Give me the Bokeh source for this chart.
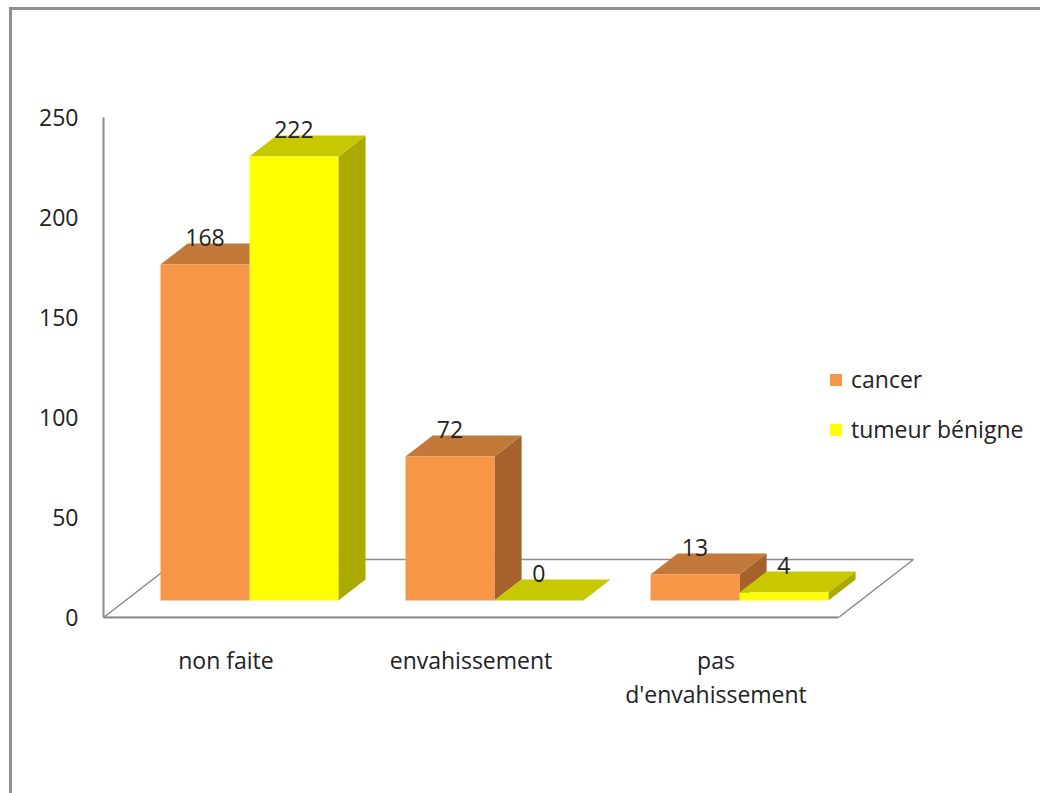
from bokeh.plotting import figure
from bokeh.models import FixedTicker, Legend, LegendItem, InlineStyleSheet, Range1d
from bokeh.core.properties import value
from bokeh.embed import file_html
from bokeh.resources import INLINE

# ---- data ----
categories = ["non faite", "envahissement", "pas\nd'envahissement"]
series_names = ["cancer", "tumeur bénigne"]
cancer = [168, 72, 13]
tumeur = [222, 0, 4]
y_ticks = [0, 50, 100, 150, 200, 250]

# ---- style ----
FONT = "Open Sans"
FS = "23px"
TXT = "#222222"
AXIS = "#8c8c8c"
front_col = ["#F79646", "#FFFF00"]
top_col = ["#C27838", "#C8C800"]
side_col = ["#A6622D", "#AAAA00"]

# ---- 3D geometry (data units) ----
PX_X = 245.0          # pixels per category
PX_Y = 2.0            # pixels per value unit
DX = 75 / PX_X        # floor depth, x shift
DY = 29.0             # floor depth, y shift
f0, f1 = 17 / 58, 38 / 58   # bar front / back as fraction of floor depth
GAP = 0.143
W = 0.363

p = figure(width=1040, height=793,
           x_range=Range1d(0, 937 / PX_X), y_range=Range1d(0, 617 / PX_Y),
           output_backend="svg", toolbar_location=None,
           min_border_left=103, min_border_right=0, min_border_top=0, min_border_bottom=176)
p.outline_line_color = None
p.xgrid.visible = False
p.ygrid.visible = False
p.background_fill_color = None
p.border_fill_color = None

# floor outline
n = len(categories)
p.patch([0, n, n + DX, DX], [0, 0, DY, DY], fill_color=None, line_color=AXIS, line_width=1.5)

values = [cancer, tumeur]
front_renderers = []
for s, vals in enumerate(values):
    sx, sy, tx, ty, fx, fy = [], [], [], [], [], []
    for i, v in enumerate(vals):
        x0 = i + GAP + s * W
        x1 = x0 + W
        a0x, a0y = f0 * DX, f0 * DY
        a1x, a1y = f1 * DX, f1 * DY
        sx.append([x1 + a0x, x1 + a1x, x1 + a1x, x1 + a0x])
        sy.append([a0y, a1y, v + a1y, v + a0y])
        tx.append([x0 + a0x, x1 + a0x, x1 + a1x, x0 + a1x])
        ty.append([v + a0y, v + a0y, v + a1y, v + a1y])
        fx.append([x0 + a0x, x1 + a0x, x1 + a0x, x0 + a0x])
        fy.append([a0y, a0y, v + a0y, v + a0y])
    p.patches(sx, sy, fill_color=side_col[s], line_color=None)
    p.patches(tx, ty, fill_color=top_col[s], line_color=None)
    r = p.patches(fx, fy, fill_color=front_col[s], line_color=None)
    front_renderers.append(r)

# data labels
for s, vals in enumerate(values):
    lx = [i + GAP + s * W + W / 2 + f0 * DX for i in range(n)]
    ly = [v + f0 * DY for v in vals]
    p.text(lx, ly, text=[str(v) for v in vals], text_align="center", text_baseline="middle",
           y_offset=-27, text_font=value(FONT), text_font_size=FS, text_color=TXT)

# axes
p.yaxis.ticker = FixedTicker(ticks=y_ticks)
p.yaxis.bounds = (0, 250)
p.xaxis.ticker = FixedTicker(ticks=[i + 0.5 for i in range(n)])
p.xaxis.major_label_overrides = {i + 0.5: c for i, c in enumerate(categories)}
p.xaxis.bounds = (0, n)
for ax in (p.xaxis, p.yaxis):
    ax.axis_line_color = AXIS
    ax.axis_line_width = 2
    ax.major_tick_line_color = None
    ax.minor_tick_line_color = None
    ax.major_tick_out = 0
    ax.major_tick_in = 0
    ax.minor_tick_out = 0
    ax.minor_tick_in = 0
    ax.major_label_text_font = FONT
    ax.major_label_text_font_size = FS
    ax.major_label_text_color = TXT
p.yaxis.major_label_standoff = 25
p.xaxis.major_label_standoff = 26
p.xaxis.major_label_text_line_height = 1.08

legend = Legend(items=[LegendItem(label=series_names[s], renderers=[front_renderers[s]]) for s in range(2)],
                location=(725, 172), glyph_width=15, glyph_height=15, label_standoff=8,
                label_height=30, spacing=18, padding=0, margin=0,
                border_line_color=None, background_fill_alpha=0,
                label_text_font=FONT, label_text_font_size=FS, label_text_color=TXT)
p.add_layout(legend, "center")

p.stylesheets = [InlineStyleSheet(css=":host{position:relative;} :host::after{content:'';position:absolute;left:9px;top:7px;right:0;bottom:0;border-left:3px solid #8f8f8f;border-top:3px solid #8f8f8f;pointer-events:none;}")]

open("out.html", "w").write(file_html(p, INLINE))
